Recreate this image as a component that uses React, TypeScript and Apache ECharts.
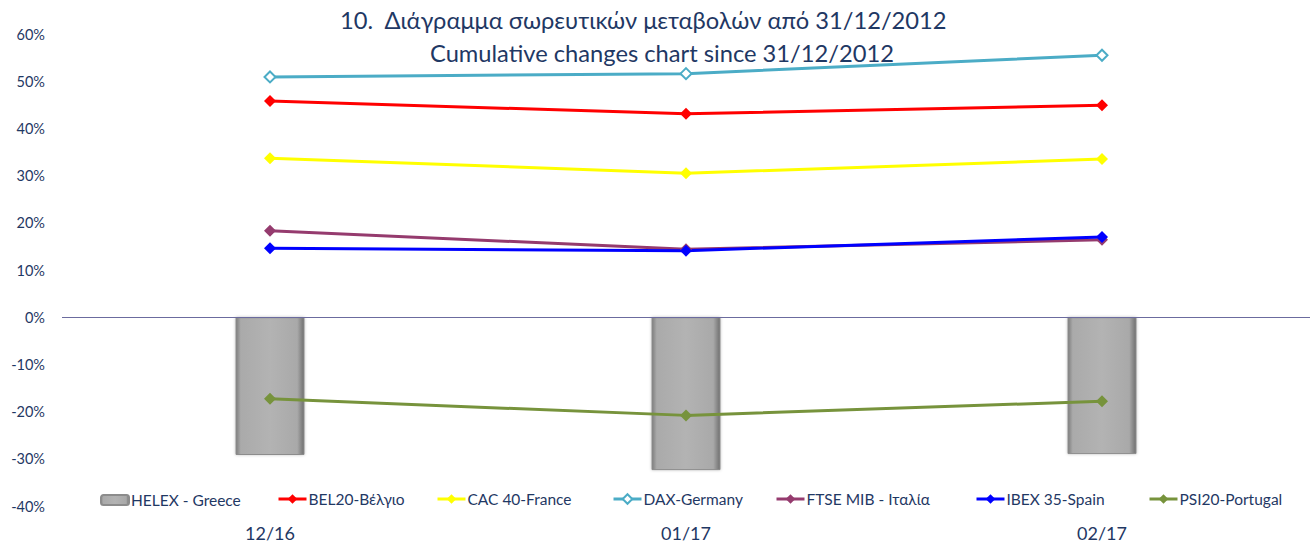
import React, { useEffect, useRef } from "react";
import * as echarts from "echarts";

const categories = ["12/16", "01/17", "02/17"];
const helex = [-29.2, -32.4, -29.0];
const bel20 = [45.8, 43.1, 44.9];
const cac40 = [33.7, 30.5, 33.5];
const dax = [50.9, 51.6, 55.5];
const ftse = [18.3, 14.4, 16.4];
const ibex = [14.6, 14.1, 17.0];
const psi20 = [-17.3, -20.8, -17.8];
const yTicks = { min: -40, max: 60, interval: 10 };
const seriesNames = [
  "HELEX - Greece",
  "BEL20-Βέλγιο",
  "CAC 40-France",
  "DAX-Germany",
  "FTSE MIB - Ιταλία",
  "IBEX 35-Spain",
  "PSI20-Portugal",
];

const titleLine1 = "10.  Διάγραμμα σωρευτικών μεταβολών από 31/12/2012";
const titleLine2 = "Cumulative changes chart since 31/12/2012";

const FONT = "Lato, 'Liberation Sans', sans-serif";
const NAVY = "#1f3864";
const legendLefts = [100, 277, 436, 612, 775, 975, 1148];

export default function App() {
  const ref = useRef<HTMLDivElement>(null);
  useEffect(() => {
    if (!ref.current) return;
    const chart = echarts.init(ref.current, null, { renderer: "svg" });
    const lineSeries = (name: string, data: number[], color: string, empty = false) => ({
      name,
      type: "line",
      data,
      symbol: empty ? "emptyDiamond" : "diamond",
      symbolSize: empty ? 11 : 12,
      showAllSymbol: true,
      lineStyle: { color, width: 3 },
      itemStyle: { color, borderColor: color, borderWidth: empty ? 2 : 0 },
      z: 5,
    });
    chart.setOption({
      animation: false,
      textStyle: { fontFamily: FONT },
      graphic: [
        {
          type: "text",
          left: 340,
          top: 8,
          style: { text: titleLine1, fontSize: 23.7, fill: NAVY, fontFamily: FONT },
        },
        {
          type: "text",
          left: 430,
          top: 41,
          style: { text: titleLine2, fontSize: 23.7, fill: NAVY, fontFamily: FONT },
        },
      ],
      legend: seriesNames.map((n, i) => ({
        left: legendLefts[i],
        top: i === 0 ? 492 : 491,
        itemWidth: 28,
        itemHeight: i === 0 ? 10 : 12,
        padding: 0,
        lineStyle: { width: 3 },
        textStyle: { fontSize: 15.5, color: NAVY, fontFamily: FONT, padding: [0, 0, 0, -3] },
        data: [n],
      })),
      grid: { left: 62, right: 0, top: 34, bottom: 39, containLabel: false },
      xAxis: {
        type: "category",
        data: categories,
        boundaryGap: true,
        axisLine: { show: false },
        axisTick: { show: false },
        axisLabel: { fontSize: 18, color: NAVY, margin: 18, fontFamily: FONT },
      },
      yAxis: {
        type: "value",
        min: yTicks.min,
        max: yTicks.max,
        interval: yTicks.interval,
        axisLine: { show: false },
        axisTick: { show: false },
        splitLine: { show: false },
        axisLabel: {
          fontSize: 14.5,
          color: NAVY,
          margin: 17,
          fontFamily: FONT,
          formatter: (v: number) => `${v}%`,
        },
      },
      series: [
        {
          name: seriesNames[0],
          type: "bar",
          data: helex,
          barWidth: 69,
          itemStyle: {
            color: new echarts.graphic.LinearGradient(0, 0, 1, 0, [
              { offset: 0, color: "#7e7e7e" },
              { offset: 0.07, color: "#aaaaaa" },
              { offset: 0.5, color: "#b3b3b3" },
              { offset: 0.9, color: "#a9a9a9" },
              { offset: 1, color: "#707070" },
            ]),
            borderColor: "#8c8c8c",
            borderWidth: 1,
            shadowColor: "rgba(0,0,0,0.25)",
            shadowBlur: 3,
          },
          z: 2,
          markLine: {
            silent: true,
            symbol: "none",
            label: { show: false },
            lineStyle: { color: "#6b6b9e", width: 1, type: "solid" },
            data: [{ yAxis: 0 }],
            z: 3,
          },
        },
        lineSeries(seriesNames[1], bel20, "#ff0000"),
        lineSeries(seriesNames[2], cac40, "#ffff00"),
        lineSeries(seriesNames[3], dax, "#4bacc6", true),
        lineSeries(seriesNames[4], ftse, "#953b6e"),
        lineSeries(seriesNames[5], ibex, "#0000ff"),
        lineSeries(seriesNames[6], psi20, "#77933c"),
      ],
    });
    return () => chart.dispose();
  }, []);
  return (
    <div
      ref={ref}
      style={{ position: "fixed", left: 0, top: 0, width: 1310, height: 545, background: "#fff" }}
    />
  );
}
